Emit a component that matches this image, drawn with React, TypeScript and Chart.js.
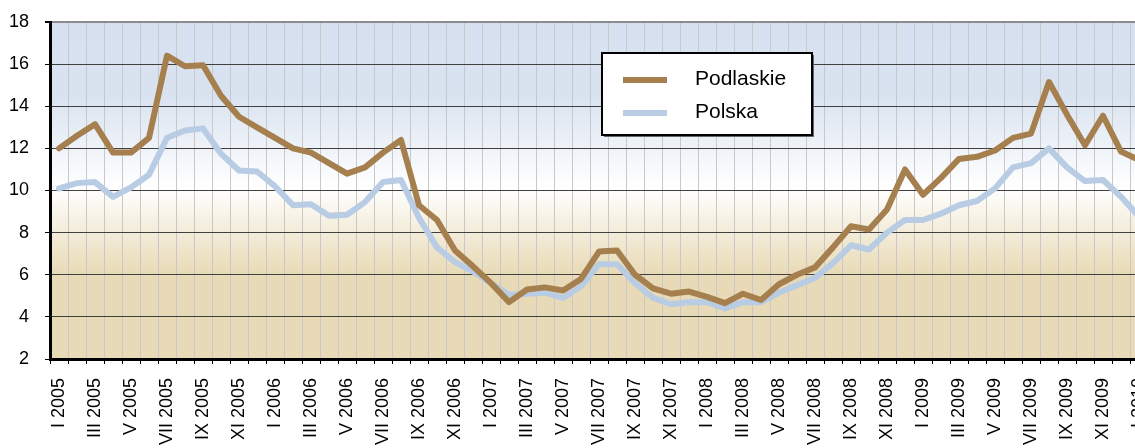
import React, { useEffect, useRef } from "react";
import { Chart, registerables } from "chart.js";

Chart.register(...registerables);

const categories = [
  "I 2005", "II 2005", "III 2005", "IV 2005", "V 2005", "VI 2005", "VII 2005", "VIII 2005", "IX 2005", "X 2005", "XI 2005", "XII 2005",
  "I 2006", "II 2006", "III 2006", "IV 2006", "V 2006", "VI 2006", "VII 2006", "VIII 2006", "IX 2006", "X 2006", "XI 2006", "XII 2006",
  "I 2007", "II 2007", "III 2007", "IV 2007", "V 2007", "VI 2007", "VII 2007", "VIII 2007", "IX 2007", "X 2007", "XI 2007", "XII 2007",
  "I 2008", "II 2008", "III 2008", "IV 2008", "V 2008", "VI 2008", "VII 2008", "VIII 2008", "IX 2008", "X 2008", "XI 2008", "XII 2008",
  "I 2009", "II 2009", "III 2009", "IV 2009", "V 2009", "VI 2009", "VII 2009", "VIII 2009", "IX 2009", "X 2009", "XI 2009", "XII 2009",
  "I 2010",
];

const podlaskie = [
  12.0, 12.6, 13.15, 11.8, 11.8, 12.5, 16.4, 15.9, 15.95, 14.5, 13.5, 13.0,
  12.5, 12.0, 11.8, 11.3, 10.8, 11.1, 11.8, 12.4, 9.3, 8.6, 7.15, 6.4,
  5.6, 4.7, 5.3, 5.4, 5.25, 5.8, 7.1, 7.15, 6.0, 5.35, 5.1, 5.2,
  4.95, 4.65, 5.1, 4.8, 5.55, 6.0, 6.35, 7.3, 8.3, 8.15, 9.1, 11.0,
  9.8, 10.6, 11.5, 11.6, 11.9, 12.5, 12.7, 15.15, 13.6, 12.15, 13.55, 11.85,
  11.45,
];

const polska = [
  10.1, 10.35, 10.4, 9.7, 10.15, 10.75, 12.5, 12.85, 12.95, 11.75, 10.95, 10.9,
  10.2, 9.3, 9.35, 8.8, 8.85, 9.45, 10.4, 10.5, 8.7, 7.3, 6.6, 6.15,
  5.6, 5.05, 5.1, 5.15, 4.9, 5.45, 6.5, 6.5, 5.6, 4.9, 4.6, 4.7,
  4.7, 4.4, 4.7, 4.7, 5.15, 5.5, 5.85, 6.55, 7.4, 7.2, 8.0, 8.6,
  8.6, 8.9, 9.3, 9.5, 10.1, 11.1, 11.3, 12.0, 11.1, 10.45, 10.5, 9.7,
  8.75,
];

const seriesNames = ["Podlaskie", "Polska"];
const seriesColors = ["#a67f4e", "#b8cce4"];
const yTicks = [2, 4, 6, 8, 10, 12, 14, 16, 18];

const FONT = "Arial, 'Liberation Sans', sans-serif";

const backgroundPlugin = {
  id: "bgGradient",
  beforeDraw(chart: any) {
    const { ctx, chartArea } = chart;
    if (!chartArea) return;
    const g = ctx.createLinearGradient(0, chartArea.top, 0, chartArea.bottom);
    g.addColorStop(0, "#d6e0ef");
    g.addColorStop(0.22, "#d9e3f0");
    g.addColorStop(0.49, "#ffffff");
    g.addColorStop(0.75, "#e8dab6");
    g.addColorStop(1, "#e8dab6");
    ctx.save();
    ctx.fillStyle = g;
    ctx.fillRect(chartArea.left, chartArea.top, chartArea.right - chartArea.left, chartArea.bottom - chartArea.top);
    ctx.restore();
  },
};

const legendPlugin = {
  id: "boxLegend",
  afterDraw(chart: any) {
    const { ctx } = chart;
    const x = 602, y = 53, w = 210, h = 82;
    ctx.save();
    ctx.fillStyle = "#666666";
    ctx.fillRect(x + 2, y + 2, w, h);
    ctx.fillStyle = "#ffffff";
    ctx.fillRect(x, y, w, h);
    ctx.strokeStyle = "#000000";
    ctx.lineWidth = 2;
    ctx.strokeRect(x, y, w, h);
    const rows = [80, 113];
    chart.data.datasets.forEach((ds: any, i: number) => {
      ctx.strokeStyle = ds.borderColor;
      ctx.lineWidth = 6;
      ctx.lineCap = "butt";
      ctx.beginPath();
      ctx.moveTo(623, rows[i]);
      ctx.lineTo(667, rows[i]);
      ctx.stroke();
      ctx.fillStyle = "#000000";
      ctx.font = `21px ${FONT}`;
      ctx.textBaseline = "middle";
      ctx.textAlign = "left";
      ctx.fillText(ds.label, 695, rows[i] - 1);
    });
    ctx.restore();
  },
};

export default function App() {
  const ref = useRef<HTMLCanvasElement | null>(null);

  useEffect(() => {
    if (!ref.current) return;
    const chart = new Chart(ref.current, {
      type: "line",
      data: {
        labels: categories,
        datasets: [
          {
            label: seriesNames[0],
            data: podlaskie,
            borderColor: seriesColors[0],
            backgroundColor: seriesColors[0],
            borderWidth: 6,
            pointRadius: 0,
            tension: 0,
            borderJoinStyle: "round",
            borderCapStyle: "round",
          },
          {
            label: seriesNames[1],
            data: polska,
            borderColor: seriesColors[1],
            backgroundColor: seriesColors[1],
            borderWidth: 6,
            pointRadius: 0,
            tension: 0,
            borderJoinStyle: "round",
            borderCapStyle: "round",
          },
        ],
      },
      options: {
        animation: false,
        responsive: false,
        devicePixelRatio: 1,
        layout: { padding: { top: 22, right: 0, bottom: 0, left: 0 } },
        plugins: {
          legend: { display: false },
          tooltip: { enabled: false },
          title: { display: false },
        },
        scales: {
          x: {
            type: "category",
            offset: true,
            grid: {
              offset: true,
              color: "#c8c8c8",
              lineWidth: 1,
              drawTicks: true,
              tickLength: 5,
              tickColor: "#000000",
            },
            border: { color: "#000000", width: 3 },
            ticks: {
              autoSkip: false,
              maxRotation: 90,
              minRotation: 90,
              padding: 14,
              color: "#000000",
              font: { family: FONT, size: 18 },
              callback: (_v: any, i: number) => (i % 2 === 0 ? categories[i] : ""),
            },
            afterFit: (scale: any) => {
              scale.height = 89;
              scale.paddingLeft = 0;
              scale.paddingRight = 0;
              scale.paddingTop = 0;
              scale.paddingBottom = 0;
            },
          },
          y: {
            min: yTicks[0],
            max: yTicks[yTicks.length - 1],
            afterBuildTicks: (scale: any) => {
              scale.ticks = yTicks.map((v) => ({ value: v }));
            },
            grid: {
              color: (c: any) => (c.tick && c.tick.value === 18 ? "#8c8c8c" : "#404040"),
              lineWidth: (c: any) => (c.tick && c.tick.value === 18 ? 2 : 1),
              drawTicks: true,
              tickLength: 5,
              tickColor: "#000000",
            },
            border: { color: "#000000", width: 3 },
            ticks: {
              padding: 16,
              color: "#000000",
              font: { family: FONT, size: 18 },
            },
            afterFit: (scale: any) => {
              scale.width = 50;
              scale.paddingLeft = 0;
              scale.paddingRight = 0;
              scale.paddingTop = 0;
              scale.paddingBottom = 0;
            },
          },
        },
      },
      plugins: [backgroundPlugin, legendPlugin],
    });
    return () => chart.destroy();
  }, []);

  return (
    <div style={{ position: "fixed", left: 0, top: 0, width: 1135, height: 448, overflow: "hidden", background: "#ffffff" }}>
      <canvas ref={ref} width={1148} height={448} style={{ display: "block" }} />
    </div>
  );
}
